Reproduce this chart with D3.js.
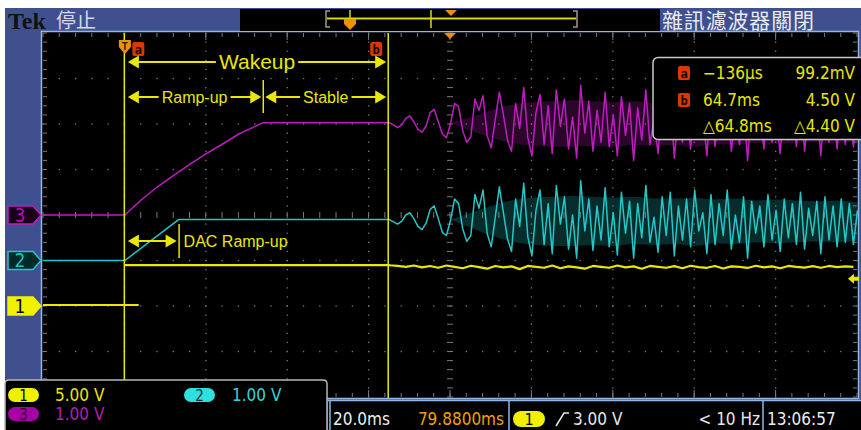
<!DOCTYPE html>
<html><head><meta charset="utf-8">
<script src="https://cdn.jsdelivr.net/npm/d3@7"></script>
<style>body{margin:0;background:#fff}svg{display:block}</style>
</head><body>
<script>
// ---------- data ----------
const timeRange = [-20.12, 179.88];          // ms on screen (20 ms/div, 10 div)
const voltsPerDiv = {ch1: 5, ch2: 1, ch3: 1};
const offsetDiv = {ch1: -2, ch2: -1, ch3: 0};
const ch1Low = 0.0992, ch1High = 4.50, ch1LowEnd = 3.4;
const ch2Level = 0.90, ch2RampEnd = 13.2;
const ch3Level = 2.03;
const ch3RampT = [0, 4, 8, 12, 16, 20, 24, 28, 34];
const ch3RampV = [0, 0.33, 0.62, 0.87, 1.12, 1.35, 1.56, 1.78, 2.03];
const noiseStart = 65;            // ms
const ch3Noise = [2.03,1.98,1.92,1.98,2.12,2.18,2.05,1.88,1.82,1.95,2.25,2.32,2.05,1.78,1.70,2.00,2.45,2.38,1.85,1.60,
  1.72,2.55,2.30,2.62,1.75,1.48,2.10,2.70,2.20,1.65,1.40,2.45,1.90,2.80,1.70,1.30,2.25,2.65,1.55,2.40,
  1.35,2.75,1.95,2.55,1.45,2.15,1.25,2.85,1.80,2.50,1.40,2.30,1.60,2.70,1.50,2.20,1.30,2.60,1.75,2.45,
  1.20,2.35,1.65,2.75,1.55,2.10,1.35,2.50,1.70,2.60,1.25,2.30,1.60,2.45,1.45,2.65,1.80,2.20,1.30,2.55,
  1.50,2.35,1.70,2.60,1.40,2.15,1.55,2.50,1.20,2.40,1.75,2.30,1.45,2.55,1.60,2.20,1.35,2.45,1.65,2.35,
  1.50,2.60,1.40,2.25,1.70,2.40,1.30,2.50,1.60,2.30,1.45,2.45,1.55,2.35,1.50,2.20];
const ch2Noise = [0.90,0.85,0.80,0.86,1.00,1.05,0.92,0.75,0.68,0.82,1.12,1.20,0.92,0.62,0.55,0.88,1.35,1.25,0.70,0.42,
  0.55,1.45,1.15,1.55,0.60,0.30,0.95,1.62,1.05,0.48,0.20,1.35,0.75,1.70,0.52,0.10,1.10,1.55,0.35,1.25,
  0.15,1.65,0.80,1.40,0.25,1.00,0.05,1.75,0.65,1.35,0.22,1.20,0.45,1.60,0.30,1.05,0.12,1.50,0.60,1.30,
  0.05,1.25,0.50,1.65,0.40,0.95,0.18,1.40,0.55,1.50,0.10,1.20,0.45,1.35,0.30,1.55,0.65,1.05,0.15,1.45,
  0.35,1.25,0.55,1.55,0.25,1.00,0.40,1.40,0.05,1.30,0.60,1.20,0.30,1.45,0.45,1.10,0.20,1.35,0.50,1.25,
  0.35,1.50,0.25,1.15,0.55,1.30,0.15,1.40,0.45,1.20,0.30,1.35,0.40,1.25,0.35,1.10];
// envelope of the dense core of the noise band (every 5 ms from 80 ms)
const bandStart = 80, bandStep = 5;
const ch3BandHi = [2.03,2.15,2.30,2.42,2.48,2.50,2.52,2.50,2.48,2.50,2.46,2.46,2.48,2.44,2.46,2.42,2.44,2.42,2.40,2.42,2.38];
const ch3BandLo = [2.03,1.85,1.70,1.58,1.52,1.50,1.50,1.52,1.50,1.54,1.52,1.54,1.50,1.56,1.54,1.58,1.56,1.58,1.60,1.58,1.62];
const ch2BandHi = [0.90,1.05,1.20,1.32,1.38,1.40,1.42,1.40,1.38,1.40,1.36,1.36,1.38,1.34,1.36,1.32,1.34,1.32,1.30,1.32,1.28];
const ch2BandLo = [0.90,0.72,0.55,0.42,0.35,0.32,0.32,0.34,0.32,0.36,0.34,0.36,0.32,0.38,0.36,0.40,0.38,0.40,0.42,0.40,0.44];
const ch1NoiseStep = 2;
const ch1Noise = [4.48,4.40,4.30,4.45,4.25,4.40,4.20,4.45,4.30,4.15,4.42,4.28,4.10,4.40,4.25,4.35,4.05,4.40,4.30,4.20,
  4.45,4.15,4.35,4.25,4.10,4.40,4.30,4.20,4.45,4.25,4.35,4.10,4.40,4.30,4.20,4.38,4.15,4.42,4.28,4.20,
  4.40,4.12,4.35,4.30,4.18,4.42,4.25,4.35,4.15,4.40,4.30,4.22,4.38,4.20,4.40,4.28,4.35,4.30];
const cursorA = -0.136, cursorB = 64.7;
const triggerLevel = 3.00;
const spans = [
  {label: "Wakeup",  t0: 0,  t1: 64.7, row: 0},
  {label: "Ramp-up", t0: 0,  t1: 34,   row: 1},
  {label: "Stable",  t0: 34, t1: 64.7, row: 1}
];
const dacSpan = {label: "DAC Ramp-up", t0: 0, t1: 13.2};
const readoutLeft = ["−136µs", "64.7ms", "△64.8ms"];
const readoutRight = ["99.2mV", "4.50 V", "△4.40 V"];
const readoutBadge = ["a", "b", ""];
const chanScaleText = ["5.00 V", "1.00 V", "1.00 V"];
const timebaseText = "20.0ms", positionText = "79.8800ms";
const trigText = "3.00 V", freqText = "< 10 Hz", clockText = "13:06:57";

// ---------- setup ----------
const W = 861, H = 430;
const YEL = "#e8e800", MAG = "#c01cc0", CYN = "#22c8c8", ORG = "#f09000", BLUE = "#40508e", EDGE = "#8cb8ec";
const NAR = "'Liberation Sans Narrow','DejaVu Sans Condensed',sans-serif";
const SANS = "'Liberation Sans',Arial,sans-serif";
const CJK = "'Noto Sans CJK TC','Noto Sans CJK SC',sans-serif";

const svg = d3.select("body").append("svg").attr("width", W).attr("height", H);
svg.append("rect").attr("width", W).attr("height", H).attr("fill", "#fff");
svg.append("rect").attr("x", 5).attr("y", 8).attr("width", W - 5).attr("height", H - 8).attr("fill", BLUE);

const x = d3.scaleLinear().domain(timeRange).range([43, 857]);
const yDiv = d3.scaleLinear().domain([4, -4]).range([33, 397]);
const yCh = ch => v => yDiv(v / voltsPerDiv[ch] + offsetDiv[ch]);

// plot area
svg.append("rect").attr("x", 41.5).attr("y", 31.5).attr("width", 817).attr("height", 367)
  .attr("fill", "#000").attr("stroke", EDGE).attr("stroke-width", 1.5);

// graticule
const g = svg.append("g");
const grid = "#7a7a7a";
const minorX = d3.range(0, 51).map(i => timeRange[0] + i * 4);
const minorY = d3.range(0, 41).map(i => -4 + i * 0.2);
for (let i = 1; i < 10; i++) {
  const xv = x(timeRange[0] + i * 20);
  if (i === 5) continue;
  minorY.forEach(d => g.append("rect").attr("x", xv - 0.6).attr("y", yDiv(d) - 0.6).attr("width", 1.3).attr("height", 1.3).attr("fill", grid));
}
for (let j = -3; j <= 3; j++) {
  if (j === 0) continue;
  minorX.forEach(t => g.append("rect").attr("x", x(t) - 0.6).attr("y", yDiv(j) - 0.6).attr("width", 1.3).attr("height", 1.3).attr("fill", grid));
}
minorY.forEach(d => {
  g.append("line").attr("x1", x(79.88) - 3).attr("x2", x(79.88) + 3).attr("y1", yDiv(d)).attr("y2", yDiv(d)).attr("stroke", grid);
  g.append("line").attr("x1", 43).attr("x2", 47).attr("y1", yDiv(d)).attr("y2", yDiv(d)).attr("stroke", grid);
  g.append("line").attr("x1", 853).attr("x2", 857).attr("y1", yDiv(d)).attr("y2", yDiv(d)).attr("stroke", grid);
});
minorX.forEach(t => {
  g.append("line").attr("x1", x(t)).attr("x2", x(t)).attr("y1", yDiv(0) - 3).attr("y2", yDiv(0) + 3).attr("stroke", grid);
  g.append("line").attr("x1", x(t)).attr("x2", x(t)).attr("y1", 33).attr("y2", 37).attr("stroke", grid);
  g.append("line").attr("x1", x(t)).attr("x2", x(t)).attr("y1", 393).attr("y2", 397).attr("stroke", grid);
});
for (let i = 1; i < 10; i++) {
  const xv = x(timeRange[0] + i * 20);
  g.append("line").attr("x1", xv).attr("x2", xv).attr("y1", 33).attr("y2", 40).attr("stroke", grid);
  g.append("line").attr("x1", xv).attr("x2", xv).attr("y1", 390).attr("y2", 397).attr("stroke", grid);
}

// ---------- traces ----------
const line = ch => d3.line().x(d => x(d[0])).y(d => yCh(ch)(d[1]));
const band = ch => d3.area().curve(d3.curveMonotoneX).x(d => x(d[0])).y0(d => yCh(ch)(d[1])).y1(d => yCh(ch)(d[2]));
const ch1A = [[timeRange[0], ch1Low], [ch1LowEnd, ch1Low]];
const ch1B = [[0, ch1High], [noiseStart, ch1High]].concat(ch1Noise.map((v, i) => [noiseStart + i * ch1NoiseStep, v]));
const ch2 = [[timeRange[0], 0], [0, 0], [ch2RampEnd, ch2Level], [noiseStart - 0.3, ch2Level]].concat(ch2Noise.map((v, i) => [noiseStart + i, v]));
const ch3 = [[timeRange[0], 0]].concat(ch3RampT.map((t, i) => [t, ch3RampV[i]]), [[noiseStart - 0.3, ch3Level]], ch3Noise.map((v, i) => [noiseStart + i, v]));
const ch3Band = ch3BandHi.map((v, i) => [bandStart + i * bandStep, ch3BandLo[i], v]);
const ch2Band = ch2BandHi.map((v, i) => [bandStart + i * bandStep, ch2BandLo[i], v]);

const tr = svg.append("g").attr("fill", "none").attr("stroke-linejoin", "round");
tr.append("path").attr("d", line("ch1")(ch1A)).attr("stroke", YEL).attr("stroke-width", 2);
tr.append("path").attr("d", line("ch1")(ch1B)).attr("stroke", YEL).attr("stroke-width", 2.2);
tr.append("path").attr("d", band("ch2")(ch2Band)).attr("fill", CYN).attr("fill-opacity", 0.22);
tr.append("path").attr("d", line("ch2")(ch2)).attr("stroke", CYN).attr("stroke-width", 1.5);
tr.append("path").attr("d", band("ch3")(ch3Band)).attr("fill", MAG).attr("fill-opacity", 0.22);
tr.append("path").attr("d", line("ch3")(ch3)).attr("stroke", MAG).attr("stroke-width", 1.5);

// ---------- cursors ----------
[cursorA, cursorB].forEach(t => svg.append("line").attr("x1", x(t)).attr("x2", x(t)).attr("y1", 33).attr("y2", 398)
  .attr("stroke", YEL).attr("stroke-width", 1.5));

function badge(cx, cy, ch) {
  svg.append("rect").attr("x", cx - 6).attr("y", cy - 7).attr("width", 12).attr("height", 14).attr("rx", 2)
    .attr("fill", "#d83800");
  svg.append("text").attr("x", cx).attr("y", cy + 4.5).attr("text-anchor", "middle").attr("font-family", "DejaVu Sans Mono,monospace")
    .attr("font-size", 12).attr("font-weight", "bold").attr("fill", "#1a0000").text(ch);
}
const tx = x(0);
svg.append("path").attr("d", `M${tx - 6},${40} h12 v7 l-6,7 l-6,-7 z`).attr("fill", ORG);
svg.append("text").attr("x", tx).attr("y", 50).attr("text-anchor", "middle").attr("font-family", SANS).attr("font-weight", "bold")
  .attr("font-size", 10).attr("fill", "#3a1800").text("T");
badge(x(cursorA) + 14, 49, "a");
badge(x(cursorB) - 12, 49, "b");
svg.append("path").attr("d", `M${x(79.88) - 6},33 h12 l-6,6 z`).attr("fill", ORG);

// ---------- annotations ----------
const ann = svg.append("g");
function dblArrow(x1, x2, y) {
  ann.append("line").attr("x1", x1 + 6).attr("x2", x2 - 6).attr("y1", y).attr("y2", y).attr("stroke", YEL).attr("stroke-width", 2);
  ann.append("path").attr("d", `M${x1},${y} l11,-6.5 v13 z`).attr("fill", YEL);
  ann.append("path").attr("d", `M${x2},${y} l-11,-6.5 v13 z`).attr("fill", YEL);
}
function gapLabel(text, cx, y, size) {
  const t = ann.append("text").attr("x", cx).attr("y", y).attr("dy", "0.35em").attr("text-anchor", "middle")
    .attr("font-family", SANS).attr("font-size", size).attr("fill", YEL).text(text);
  const b = t.node().getBBox();
  ann.insert("rect", () => t.node()).attr("x", b.x - 3).attr("y", y - 2).attr("width", b.width + 6).attr("height", 4).attr("fill", "#000");
}
const rowY = [62, 97];
spans.forEach(s => {
  const y = rowY[s.row];
  const x1 = x(s.t0) + (s.t0 === 0 ? 3 : 2);
  const x2 = x(s.t1) - 2;
  dblArrow(x1, x2, y);
  gapLabel(s.label, (x1 + x2) / 2, y, s.row === 0 ? 21 : 16);
});
ann.append("line").attr("x1", x(34)).attr("x2", x(34)).attr("y1", 80).attr("y2", 113).attr("stroke", YEL).attr("stroke-width", 1.5);
dblArrow(x(dacSpan.t0) + 3, x(dacSpan.t1) - 2, 241);
ann.append("line").attr("x1", x(dacSpan.t1) + 0.5).attr("x2", x(dacSpan.t1) + 0.5).attr("y1", 224).attr("y2", 258).attr("stroke", YEL).attr("stroke-width", 1.5);
ann.append("text").attr("x", x(dacSpan.t1) + 5).attr("y", 241).attr("dy", "0.35em").attr("font-family", SANS).attr("font-size", 16)
  .attr("fill", YEL).text(dacSpan.label);

const tly = yCh("ch1")(triggerLevel);
svg.append("path").attr("d", `M848,${tly} l6,-5 v3 h5 v4 h-5 v3 z`).attr("fill", YEL);

// ---------- readout box ----------
svg.append("rect").attr("x", 653).attr("y", 57.5).attr("width", 220).attr("height", 82).attr("rx", 5)
  .attr("fill", "#000").attr("stroke", "#c8c8c8").attr("stroke-width", 1.5);
[79, 106, 132].forEach((by, i) => {
  if (readoutBadge[i]) badge(684, by - 6, readoutBadge[i]);
  svg.append("text").attr("x", 703).attr("y", by).attr("font-family", NAR).attr("font-size", 17).attr("fill", YEL).text(readoutLeft[i]);
  svg.append("text").attr("x", 855).attr("y", by).attr("text-anchor", "end").attr("font-family", NAR).attr("font-size", 17).attr("fill", YEL).text(readoutRight[i]);
});

// ---------- left ground markers ----------
const markers = [
  {ch: "ch3", label: "3", stroke: MAG, fill: "#1a001a", text: "#b010b0"},
  {ch: "ch2", label: "2", stroke: CYN, fill: "#002a2a", text: "#20c0c0"},
  {ch: "ch1", label: "1", stroke: "#f0f000", fill: "#f0f000", text: "#000"}
];
markers.forEach(m => {
  const y = yCh(m.ch)(0);
  svg.append("path").attr("d", `M8,${y - 9} h25 l8,9 l-8,9 h-25 z`).attr("fill", m.fill).attr("stroke", m.stroke).attr("stroke-width", 1.5);
  svg.append("text").attr("x", 20).attr("y", y + 6.5).attr("text-anchor", "middle").attr("font-family", NAR).attr("font-size", 19)
    .attr("fill", m.text).text(m.label);
});

// ---------- top bar ----------
svg.append("text").attr("x", 8).attr("y", 29).attr("font-family", "'Liberation Serif','DejaVu Serif',serif").attr("font-weight", "bold")
  .attr("font-size", 24).attr("fill", "#111").text("Tek");
svg.append("text").attr("x", 56).attr("y", 28).attr("font-family", CJK).attr("font-size", 20).attr("fill", "#d8d8e8").text("停止");
svg.append("text").attr("x", 662).attr("y", 28).attr("font-family", CJK).attr("font-size", 21).attr("fill", "#eaeaf2")
  .attr("textLength", 152).text("雜訊濾波器關閉");
svg.append("rect").attr("x", 240).attr("y", 9).attr("width", 420).attr("height", 22).attr("fill", "#000");
svg.append("path").attr("d", "M330,11 h-4 v16 h4 M573,11 h4 v16 h-4").attr("fill", "none").attr("stroke", "#a09890").attr("stroke-width", 1.5);
svg.append("line").attr("x1", 327).attr("x2", 576).attr("y1", 18.5).attr("y2", 18.5).attr("stroke", "#d8d800").attr("stroke-width", 2);
svg.append("line").attr("x1", 431).attr("x2", 431).attr("y1", 10).attr("y2", 28).attr("stroke", "#d8d800").attr("stroke-width", 1.5);
svg.append("line").attr("x1", 350).attr("x2", 350).attr("y1", 10).attr("y2", 20).attr("stroke", "#d8d800").attr("stroke-width", 1.5);
svg.append("path").attr("d", "M344,19 h12 v5 l-6,6 l-6,-6 z").attr("fill", ORG);
svg.append("path").attr("d", "M445,10 h12 l-6,6 z").attr("fill", ORG);

// ---------- bottom bar ----------
svg.append("rect").attr("x", 328).attr("y", 400).attr("width", 533).attr("height", 30).attr("fill", "#000");
svg.append("line").attr("x1", 328).attr("x2", 861).attr("y1", 400.5).attr("y2", 400.5).attr("stroke", EDGE).attr("stroke-width", 1.5);
[330, 509, 763].forEach(sx => svg.append("line").attr("x1", sx).attr("x2", sx).attr("y1", 400).attr("y2", 430).attr("stroke", EDGE).attr("stroke-width", 1.5));
const bt = (tx_, anchor, txt, fill) => svg.append("text").attr("x", tx_).attr("y", 425).attr("text-anchor", anchor)
  .attr("font-family", NAR).attr("font-size", 17).attr("fill", fill).text(txt);
bt(333, "start", timebaseText, "#eeeeee");
bt(504, "end", positionText, "#f0a000");
svg.append("rect").attr("x", 513).attr("y", 411).attr("width", 32).attr("height", 16).attr("rx", 8).attr("fill", "#f0f000");
svg.append("text").attr("x", 529).attr("y", 425).attr("text-anchor", "middle").attr("font-family", NAR).attr("font-size", 16).attr("fill", "#000").text("1");
svg.append("path").attr("d", "M556,426 L564,413 h5").attr("fill", "none").attr("stroke", "#e8e8e8").attr("stroke-width", 1.5);
bt(573, "start", trigText, "#e8e8e8");
bt(760, "end", freqText, "#e8e8e8");
bt(767, "start", clockText, "#eeeeee");

// ---------- channel scale box ----------
svg.append("path").attr("d", "M5,430 V384 q0,-4 4,-4 H323 q4,0 4,4 V430").attr("fill", "#000").attr("stroke", "#b8b8b8").attr("stroke-width", 1.5);
const pill = (px, py, fill, lab, tfill) => {
  svg.append("rect").attr("x", px).attr("y", py).attr("width", 31).attr("height", 14).attr("rx", 7).attr("fill", fill);
  svg.append("text").attr("x", px + 15.5).attr("y", py + 12.5).attr("text-anchor", "middle").attr("font-family", NAR)
    .attr("font-size", 15).attr("fill", tfill).text(lab);
};
pill(8, 388, "#f0f000", "1", "#000");
pill(184, 388, "#30e0e0", "2", "#003030");
pill(8, 407, "#a800a8", "3", "#300030");
const st = (sx, sy, txt, fill) => svg.append("text").attr("x", sx).attr("y", sy).attr("font-family", NAR).attr("font-size", 17).attr("fill", fill).text(txt);
st(55, 401, chanScaleText[0], "#e8e800");
st(232, 401, chanScaleText[1], "#30d8d8");
st(55, 420, chanScaleText[2], "#b020b0");
</script>
</body></html>
